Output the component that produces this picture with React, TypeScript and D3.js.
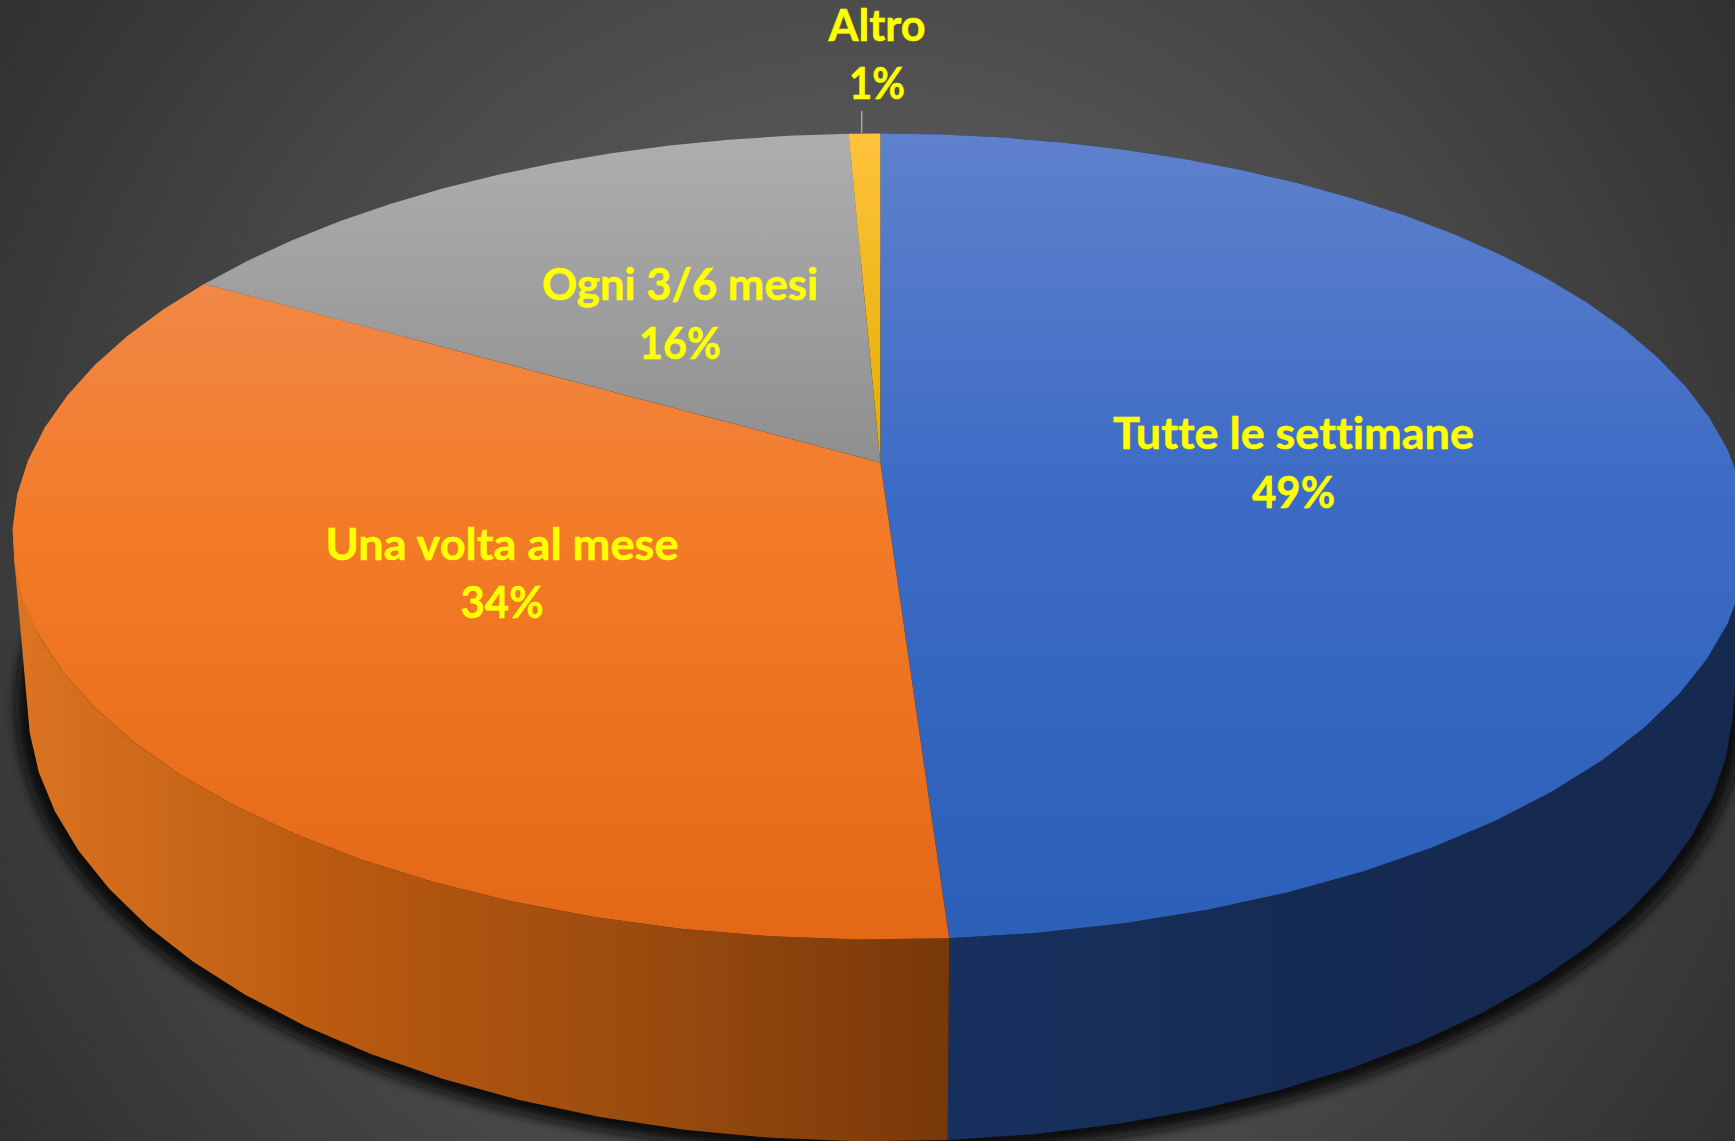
import React from "react";
import * as d3 from "d3";

const width = 1735;
const height = 1141;

// labels round them to whole percents
const categories = ["Tutte le settimane", "Una volta al mese", "Ogni 3/6 mesi", "Altro"];
const shares = [48.95, 34.4, 15.95, 0.7];

const topStops = [
  [[0, "#5f81cc"], [0.45, "#3c6bc5"], [1, "#2b5fb8"]],
  [[0, "#ef9059"], [0.5, "#f37a26"], [1, "#e26816"]],
  [[0, "#aeaeae"], [0.41, "#8f8f8f"]],
  [[0, "#ffc23c"], [0.41, "#e3ae00"]],
];
const sideStops = [
  [[0, "#17315f"], [0.5, "#152a52"], [1, "#16294f"]],
  [[0, "#dc7421"], [0.35, "#b9590f"], [0.7, "#974a0e"], [1, "#78380a"]],
];

// layout of the labels: [x, baseline 1st line, baseline 2nd line, width 1st line, width 2nd line]
const labelSpots = [
  [1293.5, 449, 508, 361, 83],
  [502, 560, 618, 353, 83],
  [680, 300, 359, 276, 82],
  [877, 41, 99, 97, 56],
];

// the perspective disc: apex is where the slices meet
const topRing = { x: 880.3, y: 462.5, rx: 853, ry: 389.4, k: 0.1837 };
const lowRing = { x: 880.3, y: 620.7, rx: 839, ry: 427, k: 0.18 };

const project = (ring, a) => {
  const u = Math.sin(a);
  const v = -Math.cos(a);
  const d = 1 - ring.k * v;
  return [ring.x + (ring.rx * u) / d, ring.y + (ring.ry * v) / d];
};

const STEP = Math.PI / 36;
const rimAngles = (a0, a1) => {
  const n = Math.max(1, Math.ceil((a1 - a0) / STEP));
  return d3.range(n + 1).map((i) => a0 + ((a1 - a0) * i) / n);
};

const line = d3.line();
const pie = d3.pie().sort(null).startAngle(0).endAngle(2 * Math.PI);
const arcs = pie(shares);

// all facets of a wall in one path, same winding, so no seams show
const wallPath = (d) => {
  const angles = rimAngles(d.startAngle, d.endAngle);
  return angles
    .slice(1)
    .map((a, j) => {
      const quad = [
        project(topRing, angles[j]),
        project(topRing, a),
        project(lowRing, a),
        project(lowRing, angles[j]),
      ];
      if (d3.polygonArea(quad) < 0) quad.reverse();
      return line(quad) + "Z";
    })
    .join("");
};

const Gradient = ({ id, stops, from, to, horizontal }) => (
  <linearGradient
    id={id}
    gradientUnits="userSpaceOnUse"
    x1={horizontal ? from : 0}
    x2={horizontal ? to : 0}
    y1={horizontal ? 0 : from}
    y2={horizontal ? 0 : to}
  >
    {stops.map(([o, c], i) => (
      <stop key={i} offset={o} stopColor={c} />
    ))}
  </linearGradient>
);

export default function App() {
  return (
    <svg
      width={width}
      height={height}
      viewBox={`0 0 ${width} ${height}`}
      style={{ position: "absolute", left: 0, top: 0, display: "block" }}
    >
      <defs>
        <radialGradient id="bg" gradientUnits="userSpaceOnUse" cx={width / 2} cy={height / 2} r={1038}>
          <stop offset="0" stopColor="#6e6e6e" />
          <stop offset="1" stopColor="#303030" />
        </radialGradient>
        <filter id="blur" x="-5%" y="-5%" width="110%" height="110%">
          <feGaussianBlur stdDeviation="6" />
        </filter>
        {topStops.map((s, i) => (
          <Gradient key={i} id={`top${i}`} stops={s} from={133} to={940} />
        ))}
        <Gradient id="side0" stops={sideStops[0]} from={948} to={1735} horizontal />
        <Gradient id="side1" stops={sideStops[1]} from={13} to={948} horizontal />
      </defs>

      <rect width={width} height={height} fill="url(#bg)" />

      {/* drop shadow under the lower rim */}
      <ellipse cx={880} cy={707} rx={864} ry={447} fill="#0e0e0e" filter="url(#blur)" />

      {/* side walls, only the two front slices can be seen */}
      {arcs.slice(0, 2).map((d, i) => (
        <path key={i} d={wallPath(d)} fill={`url(#side${i})`} />
      ))}

      {/* top surface */}
      {arcs.map((d, i) => {
        const pts = [[topRing.x, topRing.y], ...rimAngles(d.startAngle, d.endAngle).map((a) => project(topRing, a))];
        return <path key={i} d={line(pts) + "Z"} fill={`url(#top${i})`} />;
      })}

      {/* leader line for the small slice */}
      <line x1={861.7} x2={861.7} y1={111} y2={133} stroke="#a6a6a6" strokeWidth={1.5} />

      <g
        fontFamily="Lato, 'Open Sans', sans-serif"
        fontWeight={700}
        fontSize={44}
        fill="#ffff00"
        stroke="#ffff00"
        strokeWidth={0.5}
        textAnchor="middle"
        style={{ fontVariantLigatures: "none" }}
      >
        {categories.map((c, i) => {
          const [x, y1, y2, w1, w2] = labelSpots[i];
          return (
            <g key={c}>
              <text x={x} y={y1} textLength={w1} lengthAdjust="spacingAndGlyphs">{c}</text>
              <text x={x} y={y2} textLength={w2} lengthAdjust="spacingAndGlyphs">{d3.format(".0f")(shares[i])}%</text>
            </g>
          );
        })}
      </g>
    </svg>
  );
}
